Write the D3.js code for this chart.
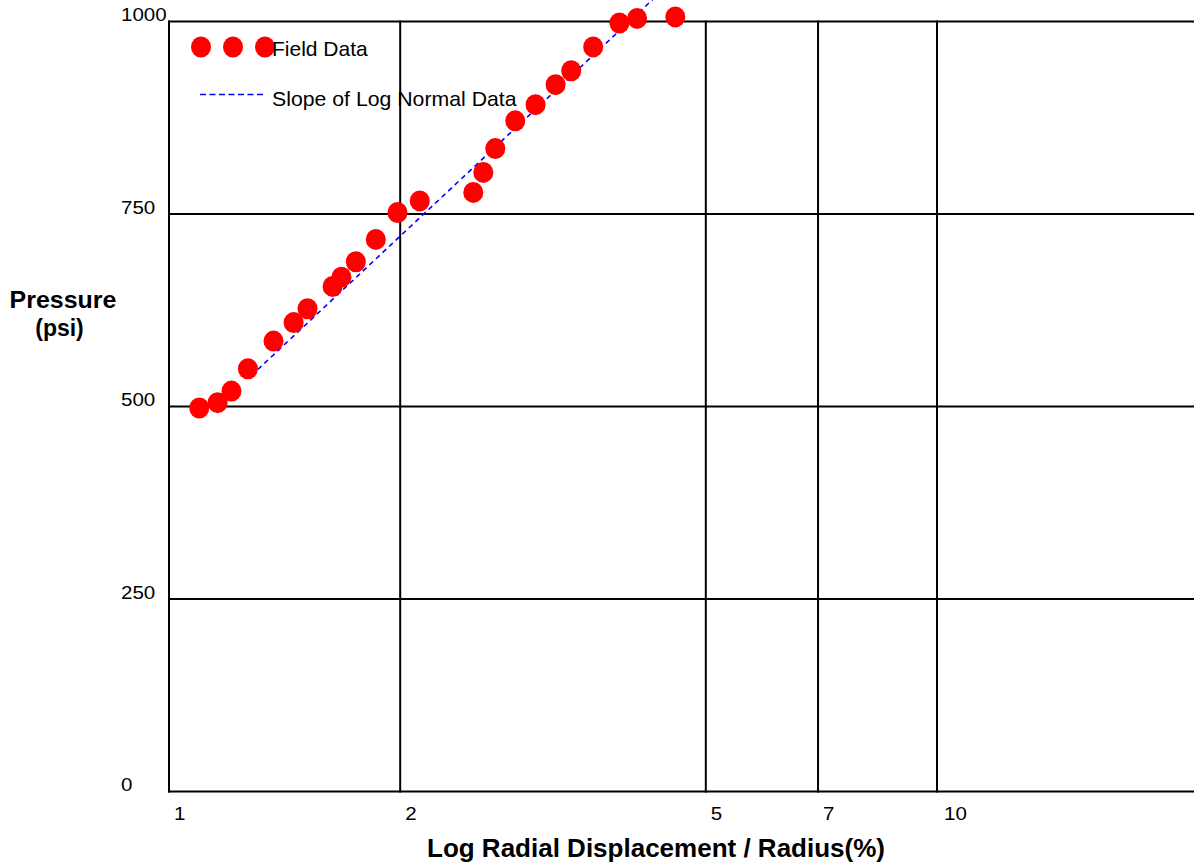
<!DOCTYPE html>
<html>
<head>
<meta charset="utf-8">
<script src="https://cdn.jsdelivr.net/npm/d3@7"></script>
<style>
  html, body { margin: 0; padding: 0; background: #fff; overflow: hidden; }
  svg { display: block; font-family: "Liberation Sans", Arial, sans-serif; }
</style>
</head>
<body>
<svg id="chart" width="1194" height="865"></svg>
<script>
// ---- data ----
const fieldX = [1.095, 1.157, 1.206, 1.267, 1.368, 1.453, 1.515, 1.633, 1.677, 1.751, 1.859, 1.984,
                2.121, 2.490, 2.566, 2.660, 2.824, 3.001, 3.187, 3.340, 3.567, 3.859, 4.069, 4.563];
const fieldY = [498, 505, 520, 549, 585, 609, 627, 656, 668, 688, 717, 752,
                767, 778, 804, 835, 871, 892, 918, 936, 967, 998, 1004, 1006];
const slopeX = [1.305, 4.30];
const slopeY = [548, 1032];
const xTicks = [1, 2, 5, 7, 10];
const yTicks = [0, 250, 500, 750, 1000];
const seriesNames = ["Field Data", "Slope of Log Normal Data"];
const xTitle = "Log Radial Displacement / Radius(%)";
const yTitle = ["Pressure", "(psi)"];

// ---- layout ----
const W = 1194, H = 865;
const svg = d3.select("#chart");
const x = d3.scaleLog().domain([1, 10]).range([169, 937]);
const y = d3.scaleLinear().domain([0, 1000]).range([791.5, 21.5]);

function stretch(f) {
  return function () {
    this.setAttribute("textLength", this.getComputedTextLength() * f);
    this.setAttribute("lengthAdjust", "spacingAndGlyphs");
  };
}

// grid
const grid = svg.append("g").attr("stroke", "#000").attr("stroke-width", 2);
grid.selectAll("line.h").data(yTicks).enter().append("line")
  .attr("x1", x(1) - 1).attr("x2", W)
  .attr("y1", d => y(d)).attr("y2", d => y(d));
grid.selectAll("line.v").data(xTicks).enter().append("line")
  .attr("x1", d => x(d)).attr("x2", d => x(d))
  .attr("y1", y(1000) - 1).attr("y2", y(0) + 1);

// y tick labels (left-aligned column, baseline on grid line)
svg.append("g").selectAll("text").data(yTicks).enter().append("text")
  .attr("x", 121).attr("y", d => y(d) - 0.5)
  .attr("font-size", 19).attr("fill", "#000")
  .text(d => d)
  .each(stretch(1.08));

// x tick labels
svg.append("g").selectAll("text").data(xTicks).enter().append("text")
  .attr("x", d => x(d) + (d >= 10 ? 7 : 5)).attr("y", 820)
  .attr("font-size", 19).attr("fill", "#000")
  .text(d => d)
  .each(stretch(1.08));

// axis titles
svg.append("text").attr("x", 656).attr("y", 857).attr("text-anchor", "middle")
  .attr("font-size", 26).attr("font-weight", "bold").text(xTitle);
svg.append("text").attr("x", 63).attr("y", 308).attr("text-anchor", "middle")
  .attr("font-size", 24).attr("font-weight", "bold").text(yTitle[0])
  .each(stretch(1.04));
svg.append("text").attr("x", 59.5).attr("y", 336).attr("text-anchor", "middle")
  .attr("font-size", 23).attr("font-weight", "bold").text(yTitle[1]);

// slope line
const line = d3.line().x(d => x(d[0])).y(d => y(d[1]));
svg.append("path").datum(d3.zip(slopeX, slopeY))
  .attr("d", line).attr("fill", "none")
  .attr("stroke", "#0000ff").attr("stroke-width", 1.6).attr("stroke-dasharray", "5,4");

// field data points
svg.append("g").selectAll("ellipse").data(d3.zip(fieldX, fieldY)).enter().append("ellipse")
  .attr("cx", d => x(d[0])).attr("cy", d => y(d[1]))
  .attr("rx", 10).attr("ry", 10.5).attr("fill", "#ff0000");

// legend
const leg = svg.append("g");
leg.selectAll("ellipse").data([201, 233, 265]).enter().append("ellipse")
  .attr("cx", d => d).attr("cy", 47).attr("rx", 10).attr("ry", 10.5).attr("fill", "#ff0000");
leg.append("text").attr("x", 272).attr("y", 56).attr("font-size", 21).text(seriesNames[0]);
leg.append("line").attr("x1", 200).attr("x2", 266).attr("y1", 94.5).attr("y2", 94.5)
  .attr("stroke", "#0000ff").attr("stroke-width", 1.6).attr("stroke-dasharray", "6,3.5");
leg.append("text").attr("x", 272).attr("y", 106).attr("font-size", 21).text(seriesNames[1])
  .each(stretch(1.012));
</script>
</body>
</html>
